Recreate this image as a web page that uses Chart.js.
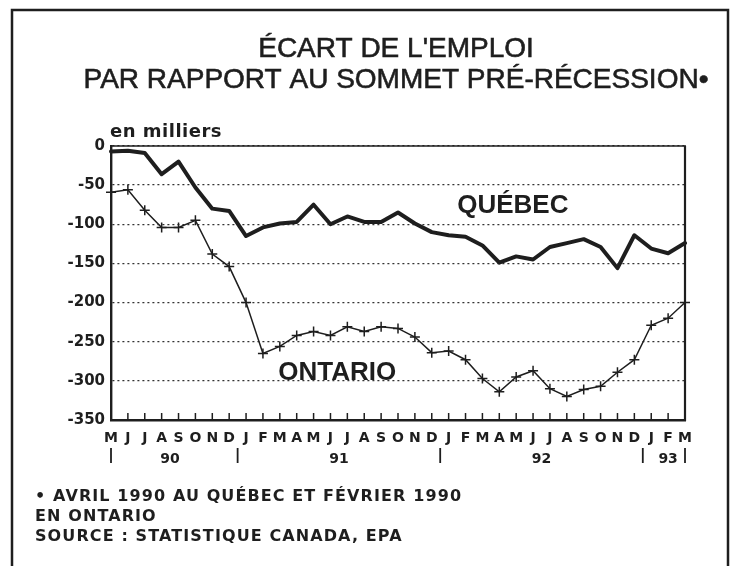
<!DOCTYPE html>
<html>
<head>
<meta charset="utf-8">
<script src="https://cdn.jsdelivr.net/npm/chart.js@4.4.1/dist/chart.umd.min.js"></script>
<style>
  html, body { margin: 0; padding: 0; background: #fff; }
  canvas { display: block; }
</style>
</head>
<body>
<canvas id="c" width="732" height="566"></canvas>
<script>
// ---------- DATA ----------
const categories = [
  '1990-05','1990-06','1990-07','1990-08','1990-09','1990-10','1990-11','1990-12',
  '1991-01','1991-02','1991-03','1991-04','1991-05','1991-06','1991-07','1991-08','1991-09','1991-10','1991-11','1991-12',
  '1992-01','1992-02','1992-03','1992-04','1992-05','1992-06','1992-07','1992-08','1992-09','1992-10','1992-11','1992-12',
  '1993-01','1993-02','1993-03'
];
const monthInitials = ['J','F','M','A','M','J','J','A','S','O','N','D'];
const quebec = [
  -7, -6, -9, -36, -20, -53, -80, -83,
  -115, -104, -99, -97, -75, -100, -90, -97, -97, -85, -99, -110,
  -114, -116, -127, -149, -141, -145, -129, -124, -119, -129, -156, -114,
  -131, -137, -124
];
const ontario = [
  -59, -56, -82, -104, -104, -95, -138, -154,
  -200, -265, -256, -242, -237, -242, -231, -237, -231, -233, -244, -264,
  -262, -273, -297, -314, -295, -287, -310, -320, -311, -307, -289, -273,
  -229, -220, -200
];
const yTickValues = [0, -50, -100, -150, -200, -250, -300, -350];
const titleLines = ["ÉCART DE L'EMPLOI", 'PAR RAPPORT AU SOMMET PRÉ-RÉCESSION•'];
const unitLabel = 'en milliers';
const seriesNames = ['QUÉBEC', 'ONTARIO'];
const footnotes = [
  '• AVRIL 1990 AU QUÉBEC ET FÉVRIER 1990',
  'EN ONTARIO',
  'SOURCE : STATISTIQUE CANADA, EPA'
];

// ---------- STYLE ----------
const INK = '#1e1e1e';
const BOLD_FAMILY = "'DejaVu Sans', sans-serif";
const TITLE_FAMILY = "'Liberation Sans', Arial, sans-serif";

const decor = {
  id: 'decor',
  afterDraw(chart) {
    const { ctx, chartArea: a, scales: { x, y } } = chart;
    ctx.save();
    ctx.strokeStyle = INK;
    ctx.fillStyle = INK;

    // outer frame
    ctx.lineWidth = 2.5;
    ctx.beginPath();
    ctx.moveTo(12, 570); ctx.lineTo(12, 10); ctx.lineTo(728, 10); ctx.lineTo(728, 570);
    ctx.stroke();

    // plot box top and right
    ctx.lineWidth = 1.5;
    ctx.beginPath(); ctx.moveTo(a.left, a.top); ctx.lineTo(a.right + 1, a.top); ctx.stroke();
    ctx.lineWidth = 2.2;
    ctx.beginPath(); ctx.moveTo(a.right, a.top); ctx.lineTo(a.right, a.bottom + 1); ctx.stroke();

    // inner tick marks on x axis
    ctx.lineWidth = 1.5;
    for (let i = 1; i < categories.length - 1; i++) {
      const px = x.getPixelForValue(i);
      ctx.beginPath(); ctx.moveTo(px, a.bottom); ctx.lineTo(px, a.bottom - 7); ctx.stroke();
    }

    // year groups
    const groups = [];
    categories.forEach((c, i) => {
      const yr = c.slice(2, 4);
      const g = groups[groups.length - 1];
      if (!g || g.yr !== yr) groups.push({ yr, start: i, end: i });
      else g.end = i;
    });
    ctx.lineWidth = 1.8;
    const seps = groups.map(g => g.start === 0 ? 0 : g.start - 0.5);
    seps.push(categories.length - 1);
    seps.forEach(v => {
      const px = x.getPixelForValue(v);
      ctx.beginPath(); ctx.moveTo(px, 448); ctx.lineTo(px, 463); ctx.stroke();
    });
    ctx.font = 'bold 14px ' + BOLD_FAMILY;
    ctx.textAlign = 'center';
    ctx.textBaseline = 'alphabetic';
    groups.forEach(g => {
      const px = x.getPixelForValue((g.start + g.end) / 2);
      ctx.fillText(g.yr, px, 463);
    });

    // title
    ctx.font = '28px ' + TITLE_FAMILY;
    ctx.textAlign = 'center';
    ctx.lineWidth = 0.6;
    ctx.fillText(titleLines[0], 396, 57);
    ctx.strokeText(titleLines[0], 396, 57);
    ctx.fillText(titleLines[1], 396, 88);
    ctx.strokeText(titleLines[1], 396, 88);

    // unit label
    ctx.font = 'bold 18px ' + BOLD_FAMILY;
    ctx.textAlign = 'left';
    ctx.letterSpacing = '0.5px';
    ctx.fillText(unitLabel, 110, 137);
    ctx.letterSpacing = '0px';

    // series labels
    ctx.font = 'bold 26px ' + TITLE_FAMILY;
    ctx.textAlign = 'center';
    ctx.fillText(seriesNames[0], x.getPixelForValue(23.8), y.getPixelForValue(-86));
    ctx.fillText(seriesNames[1], x.getPixelForValue(13.4), y.getPixelForValue(-299));

    // footnotes
    ctx.font = 'bold 16px ' + BOLD_FAMILY;
    ctx.textAlign = 'left';
    ctx.letterSpacing = '1.1px';
    footnotes.forEach((t, i) => ctx.fillText(t, 35, 501 + i * 20));
    ctx.restore();
  }
};

new Chart(document.getElementById('c'), {
  type: 'line',
  data: {
    labels: categories,
    datasets: [
      {
        label: seriesNames[0],
        data: quebec,
        borderColor: INK,
        borderWidth: 4,
        pointRadius: 0,
        tension: 0,
        borderJoinStyle: 'round',
        borderCapStyle: 'round',
        fill: false
      },
      {
        label: seriesNames[1],
        data: ontario,
        borderColor: INK,
        borderWidth: 1.5,
        pointStyle: 'cross',
        pointRadius: 5,
        pointBorderWidth: 1.5,
        pointBorderColor: INK,
        pointBackgroundColor: INK,
        tension: 0,
        fill: false,
        clip: false
      }
    ]
  },
  options: {
    responsive: false,
    devicePixelRatio: 1,
    animation: false,
    layout: { padding: { left: 0, right: 47, top: 146, bottom: 116 } },
    plugins: { legend: { display: false }, tooltip: { enabled: false }, title: { display: false } },
    scales: {
      x: {
        type: 'category',
        offset: false,
        grid: { display: true, drawOnChartArea: false, drawTicks: false },
        border: { display: true, color: INK, width: 2.4 },
        ticks: {
          autoSkip: false,
          maxRotation: 0,
          minRotation: 0,
          padding: 10,
          color: INK,
          font: { family: BOLD_FAMILY, weight: 'bold', size: 14 },
          callback: (v, i) => monthInitials[parseInt(categories[i].slice(5), 10) - 1]
        },
        afterFit(s) { s.height = 30; }
      },
      y: {
        min: -350,
        max: 0,
        afterBuildTicks(s) { s.ticks = yTickValues.map(v => ({ value: v })); },
        ticks: {
          padding: 6,
          color: INK,
          font: { family: BOLD_FAMILY, weight: 'bold', size: 15 },
          callback: v => String(v)
        },
        grid: { drawTicks: false, color: '#333', lineWidth: 1.3 },
        border: { display: true, color: INK, width: 2.4, dash: [2, 3] },
        afterFit(s) { s.width = 111; }
      }
    }
  },
  plugins: [decor]
});
</script>
</body>
</html>
